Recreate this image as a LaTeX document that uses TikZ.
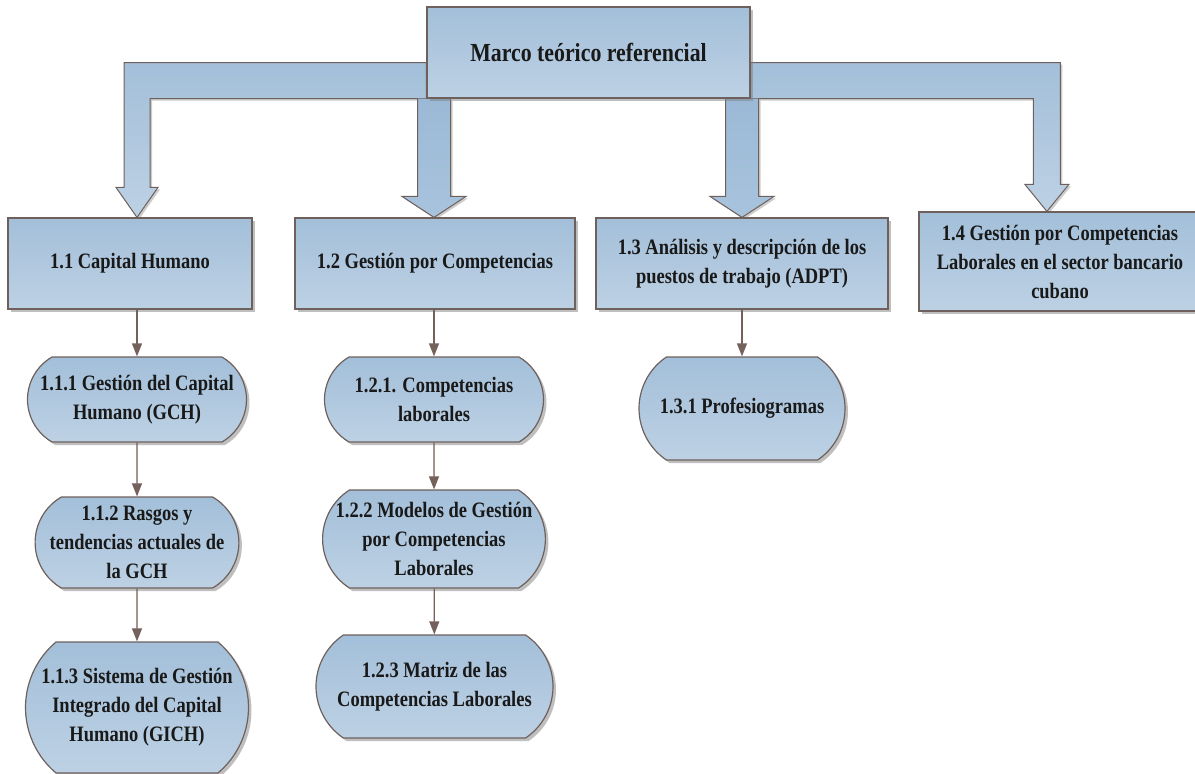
\documentclass[tikz,border=0pt]{standalone}
\usepackage{fontspec}
\setmainfont{Liberation Serif}[FakeStretch=0.84]
\usetikzlibrary{arrows.meta,calc,shapes.misc,shadows,backgrounds}

\definecolor{boxtop}{HTML}{A3BFD9}
\definecolor{boxbot}{HTML}{BDD1E4}
\definecolor{edgec}{HTML}{6E605C}
\definecolor{linkc}{HTML}{74615B}
\definecolor{arrowtop}{HTML}{9BB9D6}
\definecolor{arrowbot}{HTML}{A8C3DD}

\begin{document}
\begin{tikzpicture}[x=1pt,y=-1pt,
    every node/.style={font=\fontsize{22}{29}\selectfont\bfseries,align=center,text=black!90},
    base box/.style={draw=edgec,line width=1.2pt,top color=boxtop,bottom color=boxbot,inner sep=0pt,
      drop shadow={shadow xshift=3pt,shadow yshift=-3pt,fill=black!50,opacity=.5}},
    topic node/.style={base box,rectangle},
    sub node/.style={base box,rounded rectangle,rounded rectangle arc length=120},
    link/.style={-{Triangle[width=10pt,length=13pt]},draw=linkc,fill=linkc,line width=1.2pt},
    band/.style={draw=edgec,line width=1pt,top color=boxtop,bottom color=boxbot,
      drop shadow={shadow xshift=2pt,shadow yshift=-2pt,fill=black!50,opacity=.4}},
    shaft/.style={draw=edgec,line width=1pt,top color=arrowtop,bottom color=arrowbot,
      drop shadow={shadow xshift=2pt,shadow yshift=-2pt,fill=black!50,opacity=.4}}]

  \useasboundingbox (0,0) rectangle (1195,774);

  % top
  \node[topic node,minimum width=323pt,minimum height=91pt,font=\fontsize{26}{32}\selectfont\bfseries] (marco) at (588.5,52.5) {Marco teórico referencial};

  % level 1
  \node[topic node,minimum width=244pt,minimum height=91pt] (capital) at (130,263.5) {1.1 Capital Humano};
  \node[topic node,minimum width=280pt,minimum height=91pt] (gestion) at (435,263.5) {1.2 Gestión por Competencias};
  \node[topic node,minimum width=292pt,minimum height=91pt] (analisis) at (742,263.5) {1.3 Análisis y descripción de los\\puestos de trabajo (ADPT)};
  \node[topic node,minimum width=282pt,minimum height=99pt] (sector) at (1060,261.5) {1.4 Gestión por Competencias\\Laborales en el sector bancario\\cubano};

  % level 2
  \node[sub node,minimum width=219pt,minimum height=85pt] (gch) at (137,399.5) {1.1.1 Gestión del Capital\\Humano (GCH)};
  \node[sub node,minimum width=202pt,minimum height=91pt] (rasgos) at (137,542.5) {1.1.2 Rasgos y\\tendencias actuales de\\la GCH};
  \node[sub node,minimum width=223pt,minimum height=131pt,rounded rectangle arc length=100] (gich) at (137,707.5) {1.1.3 Sistema de Gestión\\Integrado del Capital\\Humano (GICH)};
  \node[sub node,minimum width=219pt,minimum height=85pt] (complab) at (434,399.5) {1.2.1. Competencias\\laborales};
  \node[sub node,minimum width=219pt,minimum height=98pt,rounded rectangle arc length=115] (modelos) at (434,539) {1.2.2 Modelos de Gestión\\por Competencias\\Laborales};
  \node[sub node,minimum width=237pt,minimum height=103pt,rounded rectangle arc length=112] (matriz) at (434.5,686.5) {1.2.3 Matriz de las\\Competencias Laborales};
  \node[sub node,minimum width=206pt,minimum height=103pt,rounded rectangle arc length=112] (profes) at (742,408.5) {1.3.1 Profesiogramas};

  \draw[link] (capital.south -| gch.north) -- (gch.north);
  \draw[link] (gch) -- (rasgos);
  \draw[link] (rasgos) -- (gich);
  \draw[link] (gestion.south -| complab.north) -- (complab.north);
  \draw[link] (complab) -- (modelos);
  \draw[link] (modelos) -- (matriz);
  \draw[link] (analisis.south -| profes.north) -- (profes.north);

  % block arrows from the top box
  \coordinate (bandtop) at ($(marco.south)+(0,-36)$);
  \coordinate (tipA) at (gch.north |- capital.north);
  \coordinate (tipB) at (complab.north |- gestion.north);
  \coordinate (tipC) at (profes.north |- analisis.north);
  \coordinate (tipD) at ($(sector.north west)+(128.5,0)$);
  \begin{scope}[on background layer]
    \path[band] (marco.south west) -- ($(tipA |- marco.south)+(13,0)$) -- ($(tipA)+(13,-30)$)
      -- ($(tipA)+(21,-30)$) -- (tipA) -- ($(tipA)+(-21,-30)$) -- ($(tipA)+(-13,-30)$)
      -- ($(tipA |- bandtop)+(-13,0)$) -- (marco.west |- bandtop) -- cycle;
    \path[band] (marco.south east) -- ($(tipD |- marco.south)+(-13.5,0)$) -- ($(tipD)+(-13.5,-27)$)
      -- ($(tipD)+(-22,-27)$) -- (tipD) -- ($(tipD)+(22,-27)$) -- ($(tipD)+(13.5,-27)$)
      -- ($(tipD |- bandtop)+(13.5,0)$) -- (marco.east |- bandtop) -- cycle;
    \path[shaft] ($(tipB |- marco.south)+(-16.5,0)$) -- ($(tipB)+(-16.5,-21)$) -- ($(tipB)+(-32,-21)$)
      -- (tipB) -- ($(tipB)+(32,-21)$) -- ($(tipB)+(16.5,-21)$) -- ($(tipB |- marco.south)+(16.5,0)$);
    \path[shaft] ($(tipC |- marco.south)+(-16.5,0)$) -- ($(tipC)+(-16.5,-21)$) -- ($(tipC)+(-32,-21)$)
      -- (tipC) -- ($(tipC)+(32,-21)$) -- ($(tipC)+(16.5,-21)$) -- ($(tipC |- marco.south)+(16.5,0)$);
  \end{scope}
\end{tikzpicture}
\end{document}
